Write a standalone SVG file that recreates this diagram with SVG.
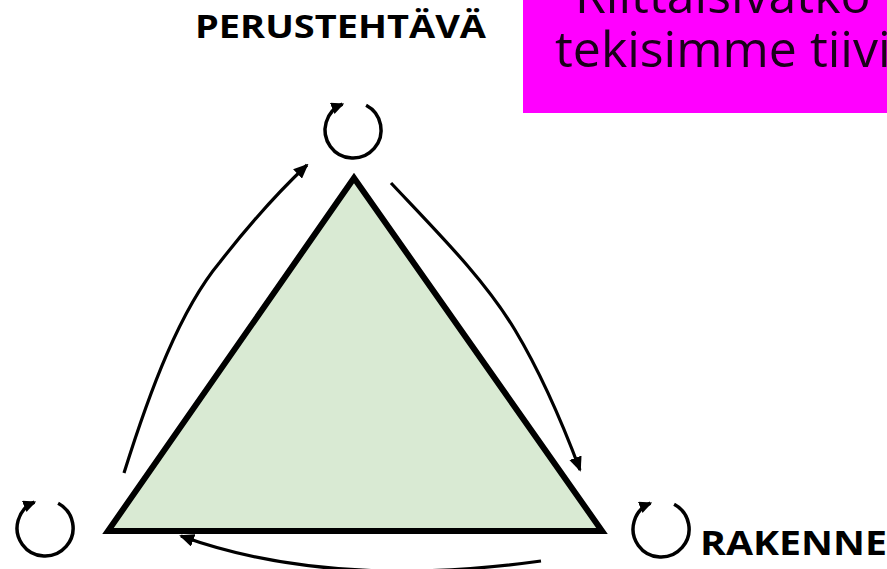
<svg xmlns="http://www.w3.org/2000/svg" width="887" height="569" viewBox="0 0 887 569">
<style>
.lbl{font-family:"Open Sans","Noto Sans",sans-serif;font-weight:bold;fill:#000}
.box{font-family:"Open Sans","Noto Sans",sans-serif;font-size:50px;fill:#1a001a}
.arr{fill:none;stroke:#000;stroke-width:3.2;marker-end:url(#ah)}
.cyc{fill:none;stroke:#000;stroke-width:3.5;marker-end:url(#ah2)}
</style>
<defs>
<marker id="ah" viewBox="0 0 15 13" refX="13" refY="6.5" markerWidth="15" markerHeight="13" markerUnits="userSpaceOnUse" orient="auto">
<path d="M0,0 L15,6.5 L0,13 Z" fill="#000"/>
</marker>
<marker id="ah2" viewBox="0 0 13 12" refX="11" refY="6" markerWidth="13" markerHeight="12" markerUnits="userSpaceOnUse" orient="auto">
<path d="M0,0 L13,6 L0,12 Z" fill="#000"/>
</marker>
</defs>
<rect width="887" height="569" fill="#fff"/>
<g id="note">
<rect x="523" y="-10" width="380" height="123" fill="#ff00ff"/>
<text class="box" x="575" y="13">Riittäisivätkö r</text>
<text class="box" x="555" y="67">tekisimme tiivi</text>
</g>
<g id="triangle">
<polygon points="354,178 108,531 602,531" fill="#d9ead3" stroke="#000" stroke-width="6" stroke-linejoin="miter"/>
</g>
<g id="perustehtava">
<text class="lbl" x="195" y="38" font-size="32" textLength="291" lengthAdjust="spacingAndGlyphs">PERUSTEHTÄVÄ</text>
<path class="cyc" d="M366.1,105.3 A28,28 0 1 1 342.4,104.2"/>
</g>
<g id="left-node">
<path class="cyc" d="M58.1,503.3 A28,28 0 1 1 34.4,502.2"/>
</g>
<g id="rakenne">
<text class="lbl" x="700" y="555" font-size="34" textLength="187" lengthAdjust="spacingAndGlyphs">RAKENNE</text>
<path class="cyc" d="M674.1,504.3 A28,28 0 1 1 650.4,503.2"/>
</g>
<g id="connectors">
<path class="arr" d="M124,473 C150,390 180,310 220,262 C245,230 275,195 307,165"/>
<path class="arr" d="M391,183 C440,235 485,280 515,330 C545,380 565,430 580,470"/>
<path class="arr" d="M541,561 Q330,590 181,536"/>
</g>
</svg>
